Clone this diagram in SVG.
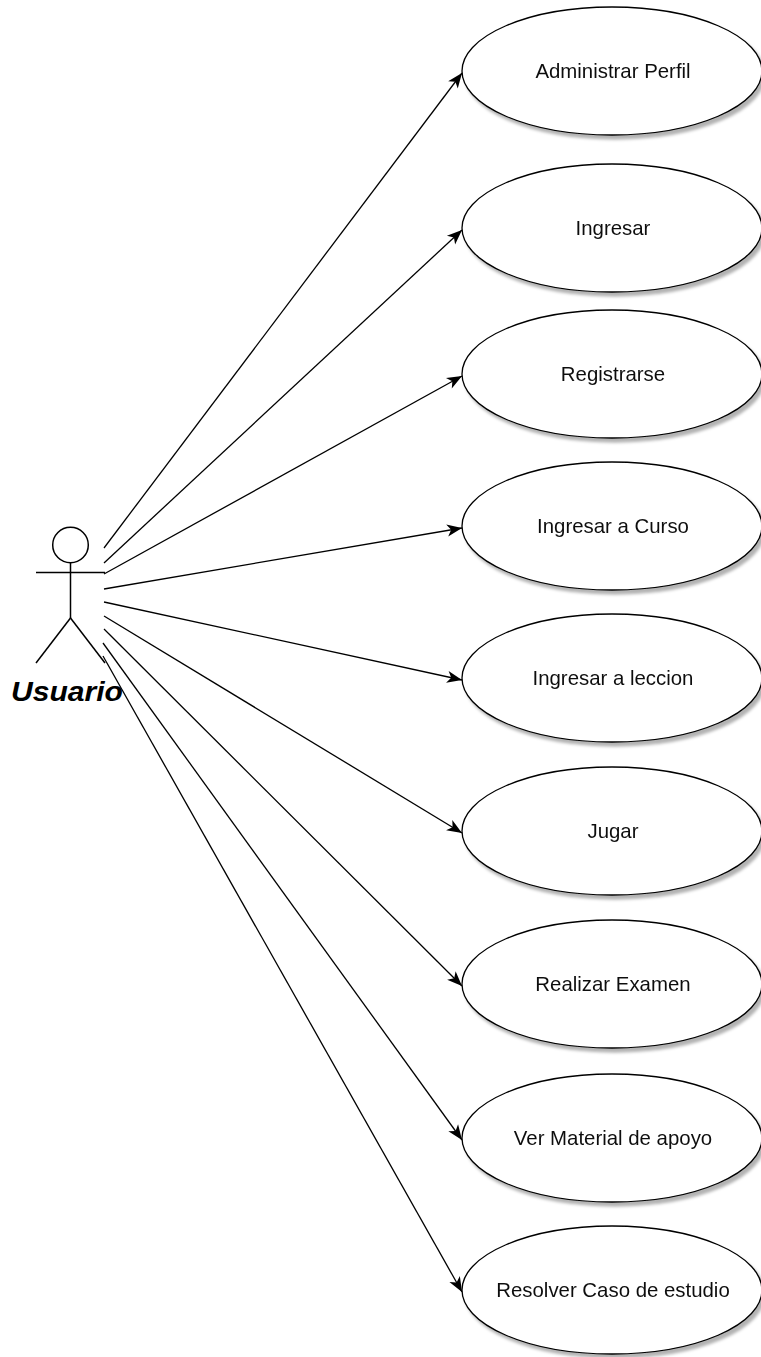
<svg xmlns="http://www.w3.org/2000/svg" width="761" height="1357" viewBox="0 0 761 1357">
  <style>
    .usecase ellipse { fill: #ffffff; stroke: #000000; stroke-width: 1.3; }
    .usecase text { font-family: "Liberation Sans", Arial, sans-serif; font-size: 20.4px; fill: #111111; text-anchor: middle; }
    .actor { fill: none; stroke: #000000; stroke-width: 1.5; }
    .actor-label { font-family: "Liberation Sans", Arial, sans-serif; font-size: 27px; font-weight: bold; font-style: italic; fill: #000000; }
    .link { fill: none; stroke: #000000; stroke-width: 1.3; marker-end: url(#arrow); }
  </style>
  <defs>
    <marker id="arrow" markerUnits="userSpaceOnUse" markerWidth="20" markerHeight="16" viewBox="-16 -8 18 16" refX="0" refY="0" orient="auto">
      <path d="M0,0 L-15,-6 L-11,0 L-15,6 Z" fill="#000000"/>
    </marker>
    <filter id="shadow" x="-10%" y="-10%" width="125%" height="130%">
      <feOffset in="SourceAlpha" dx="3" dy="4" result="off"/>
      <feGaussianBlur in="off" stdDeviation="1.6" result="blur"/>
      <feFlood flood-color="#000000" flood-opacity="0.3"/>
      <feComposite in2="blur" operator="in" result="shade"/>
      <feMerge>
        <feMergeNode in="shade"/>
        <feMergeNode in="SourceGraphic"/>
      </feMerge>
    </filter>
  </defs>

  <rect x="0" y="0" width="761" height="1357" fill="#ffffff"/>

  <!-- actor -->
  <g id="actor-usuario">
    <circle class="actor" cx="70.5" cy="545" r="17.8"/>
    <line class="actor" x1="36" y1="572.5" x2="105" y2="572.5"/>
    <line class="actor" x1="70.5" y1="563" x2="70.5" y2="618"/>
    <line class="actor" x1="70.5" y1="618" x2="36" y2="663"/>
    <line class="actor" x1="70.5" y1="618" x2="105" y2="663"/>
    <text class="actor-label" x="11" y="701" textLength="112" lengthAdjust="spacingAndGlyphs">Usuario</text>
  </g>

  <!-- associations from the actor to each use case -->
  <g id="connectors">
    <line class="link" x1="104" y1="548" x2="462" y2="73"/>
    <line class="link" x1="104" y1="563" x2="462" y2="230"/>
    <line class="link" x1="104" y1="574" x2="462" y2="376"/>
    <line class="link" x1="104" y1="589" x2="462" y2="528"/>
    <line class="link" x1="104" y1="602" x2="462" y2="680"/>
    <line class="link" x1="104" y1="616" x2="462" y2="833"/>
    <line class="link" x1="104" y1="629" x2="462" y2="986"/>
    <line class="link" x1="103" y1="643" x2="462" y2="1140"/>
    <line class="link" x1="103" y1="656" x2="462" y2="1292"/>
  </g>

  <!-- use cases -->
  <g id="uc-administrar-perfil" class="usecase" filter="url(#shadow)">
    <ellipse cx="612" cy="71" rx="150" ry="64"/>
    <text x="613" y="78">Administrar Perfil</text>
  </g>
  <g id="uc-ingresar" class="usecase" filter="url(#shadow)">
    <ellipse cx="612" cy="228" rx="150" ry="64"/>
    <text x="613" y="235">Ingresar</text>
  </g>
  <g id="uc-registrarse" class="usecase" filter="url(#shadow)">
    <ellipse cx="612" cy="374" rx="150" ry="64"/>
    <text x="613" y="381">Registrarse</text>
  </g>
  <g id="uc-ingresar-curso" class="usecase" filter="url(#shadow)">
    <ellipse cx="612" cy="526" rx="150" ry="64"/>
    <text x="613" y="533">Ingresar a Curso</text>
  </g>
  <g id="uc-ingresar-leccion" class="usecase" filter="url(#shadow)">
    <ellipse cx="612" cy="678" rx="150" ry="64"/>
    <text x="613" y="685">Ingresar a leccion</text>
  </g>
  <g id="uc-jugar" class="usecase" filter="url(#shadow)">
    <ellipse cx="612" cy="831" rx="150" ry="64"/>
    <text x="613" y="838">Jugar</text>
  </g>
  <g id="uc-realizar-examen" class="usecase" filter="url(#shadow)">
    <ellipse cx="612" cy="984" rx="150" ry="64"/>
    <text x="613" y="991">Realizar Examen</text>
  </g>
  <g id="uc-ver-material" class="usecase" filter="url(#shadow)">
    <ellipse cx="612" cy="1138" rx="150" ry="64"/>
    <text x="613" y="1145">Ver Material de apoyo</text>
  </g>
  <g id="uc-resolver-caso" class="usecase" filter="url(#shadow)">
    <ellipse cx="612" cy="1290" rx="150" ry="64"/>
    <text x="613" y="1297">Resolver Caso de estudio</text>
  </g>
</svg>
